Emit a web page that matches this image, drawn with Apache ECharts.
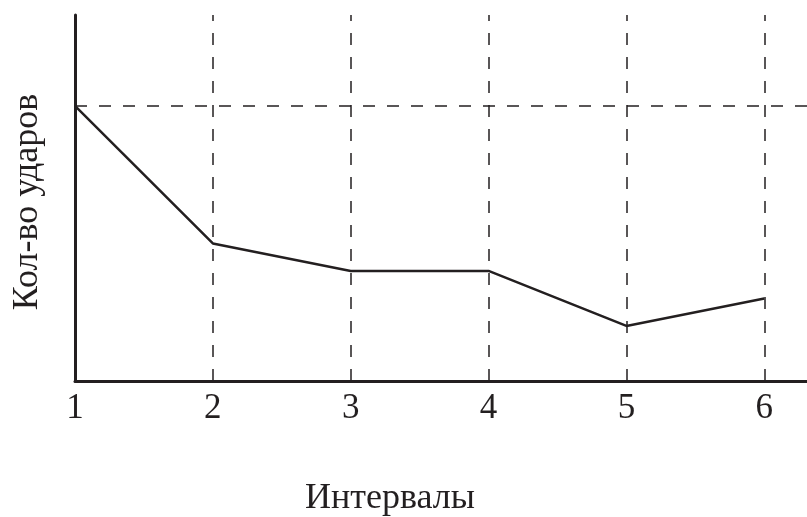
<!DOCTYPE html>
<html>
<head>
<meta charset="utf-8">
<script src="https://cdn.jsdelivr.net/npm/echarts@6/dist/echarts.min.js"></script>
<style>
  html, body { margin: 0; padding: 0; background: #fff; }
  #chart { width: 807px; height: 517px; }
</style>
</head>
<body>
<div id="chart"></div>
<script>
// данные графика
var intervals = [1, 2, 3, 4, 5, 6];
var hits = [10, 5, 4, 4, 2, 3];
var guideLevel = 10;      // горизонтальная пунктирная линия
var guideIntervals = [2, 3, 4, 5, 6]; // вертикальные пунктирные линии

var myChart = echarts.init(document.getElementById('chart'));

var ink = '#231f20';
var font = '"Liberation Serif", "DejaVu Serif", serif';

var markData = [{ yAxis: guideLevel }];
guideIntervals.forEach(function (v) {
    markData.push({ xAxis: v });
});

var option = {
    animation: false,
    grid: {
        left: 75,
        right: 0,
        top: 15,
        bottom: 136,
        outerBoundsMode: 'none'
    },
    xAxis: {
        type: 'value',
        min: 1,
        max: 6.31,
        interval: 1,
        name: 'Интервалы',
        nameLocation: 'middle',
        nameGap: 100,
        nameTextStyle: { fontFamily: font, fontSize: 36, color: ink, padding: [0, 102, 0, 0] },
        axisLine: { lineStyle: { color: ink, width: 3 } },
        axisTick: { show: false },
        splitLine: { show: false },
        axisLabel: {
            fontFamily: font, fontSize: 35, color: ink, margin: 10,
            showMaxLabel: false,
            formatter: function (v) { return intervals.indexOf(v) >= 0 ? String(v) : ''; }
        }
    },
    yAxis: {
        type: 'value',
        min: 0,
        max: 13.3,
        name: 'Кол-во ударов',
        nameLocation: 'middle',
        nameGap: 29,
        nameTextStyle: { fontFamily: font, fontSize: 36, color: ink, padding: [0, 8, 0, 0] },
        axisLine: { show: true, lineStyle: { color: ink, width: 3 } },
        axisTick: { show: false },
        axisLabel: { show: false },
        splitLine: { show: false }
    },
    series: [{
        type: 'line',
        data: intervals.map(function (x, i) { return [x, hits[i]]; }),
        symbol: 'none',
        lineStyle: { color: ink, width: 2.5 },
        markLine: {
            silent: true,
            symbol: 'none',
            label: { show: false },
            lineStyle: { color: ink, width: 1.5, type: [12, 12] },
            data: markData
        }
    }]
};

myChart.setOption(option);
</script>
</body>
</html>
